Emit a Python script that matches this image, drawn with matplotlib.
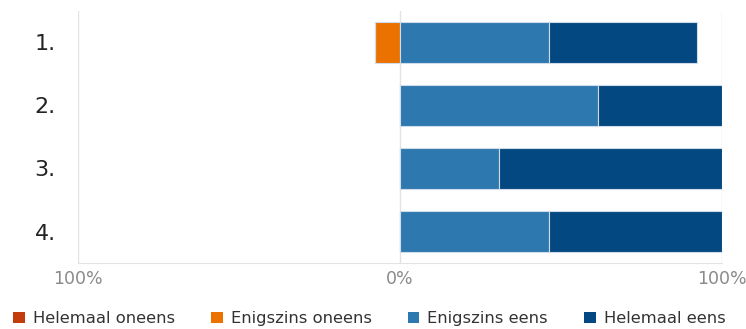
import numpy as np
import matplotlib.pyplot as plt
from matplotlib.patches import Patch

items = ["1.", "2.", "3.", "4."]
helemaal_oneens = [0.0, 0.0, 0.0, 0.0]
enigszins_oneens = [7.7, 0.0, 0.0, 0.0]
enigszins_eens = [46.2, 61.5, 30.8, 46.2]
helemaal_eens = [46.1, 38.5, 69.2, 53.8]

labels = ["Helemaal oneens", "Enigszins oneens", "Enigszins eens", "Helemaal eens"]
colors = ["#C43C0C", "#EC7200", "#2E78B0", "#034881"]

fig = plt.figure(figsize=(7.46, 3.29), dpi=100)
ax = fig.add_axes([0.1046, 0.2006, 0.8636, 0.766])

y = np.arange(len(items))
h = 0.66
edge = dict(edgecolor="#cfdbe8", linewidth=0.8)

# negative side
eo = -np.array(enigszins_oneens)
ho = -np.array(helemaal_oneens)
ax.barh(y, eo, height=h, color=colors[1], **edge)
ax.barh(y, ho, left=eo, height=h, color=colors[0], **edge)
# positive side
ax.barh(y, enigszins_eens, height=h, color=colors[2], **edge)
ax.barh(y, helemaal_eens, left=enigszins_eens, height=h, color=colors[3], **edge)

ax.set_xlim(-100, 100)
ax.set_ylim(3.5, -0.5)
ax.set_xticks([-100, 0, 100])
ax.set_xticklabels(["100%", "0%", "100%"], color="#8a8a8a", fontsize=12.5)
ax.set_yticks(y)
ax.set_yticklabels(items, fontsize=16, color="#222222")
ax.tick_params(axis="both", length=0)
ax.tick_params(axis="y", pad=16)
ax.tick_params(axis="x", pad=5)
ax.grid(axis="x", color="#e3e3e3", linewidth=1)
ax.set_axisbelow(True)
for s in ["top", "right", "left"]:
    ax.spines[s].set_visible(False)
ax.spines["bottom"].set_color("#e3e3e3")

handles = [Patch(facecolor=c, label=l) for c, l in zip(colors, labels)]
fig.legend(handles=handles, loc="lower left", bbox_to_anchor=(-0.002, -0.036), ncol=4,
           frameon=False, fontsize=11.8, handlelength=0.7, handleheight=0.7,
           handletextpad=0.5, columnspacing=2.2, labelcolor="#333333")

fig.savefig("out.png", dpi=100)
